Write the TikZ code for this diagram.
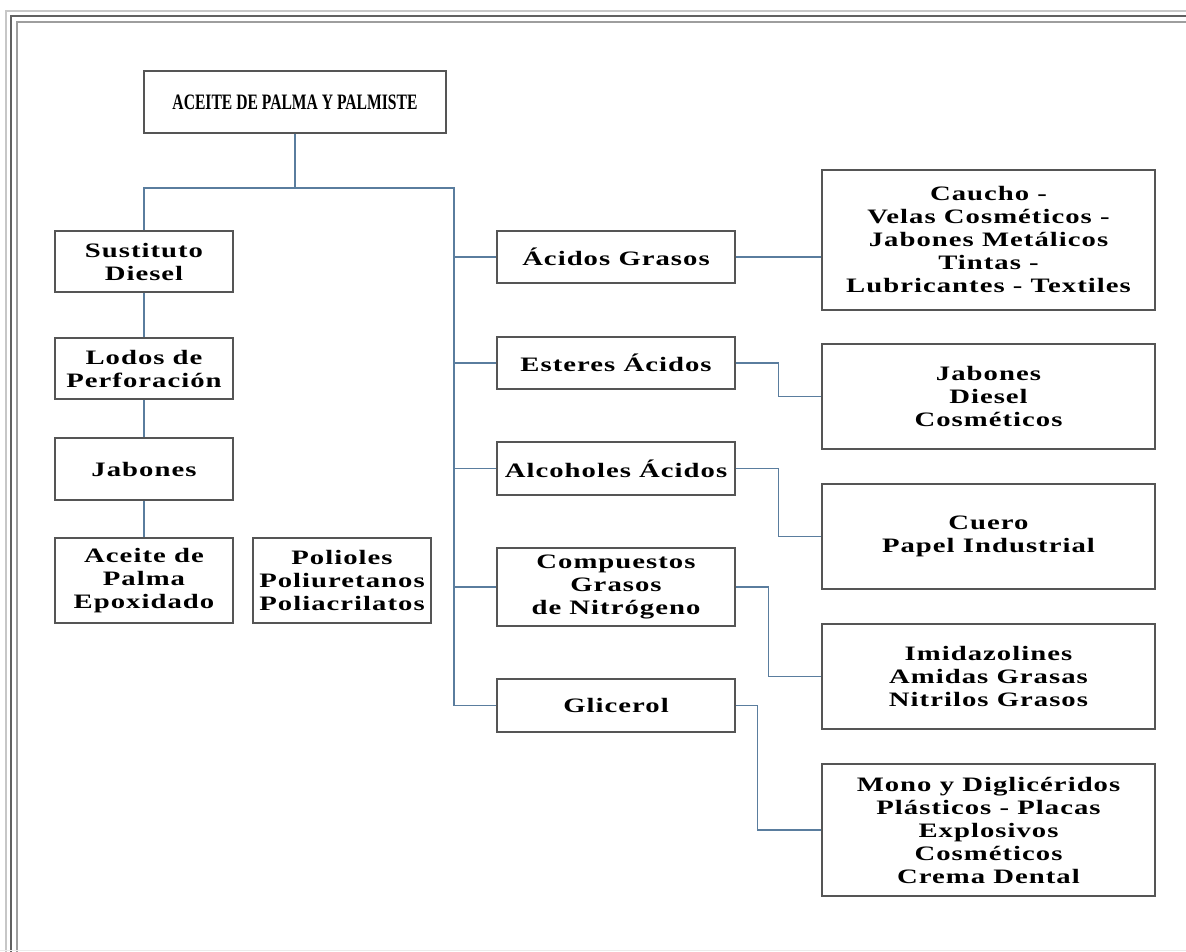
\documentclass[tikz,border=0pt]{standalone}
\usepackage{fontspec}
\setmainfont{Liberation Serif}
\newfontfamily\bodyfont{Liberation Serif}[FakeStretch=1.4, LetterSpace=5]
\newfontfamily\titlefont{Liberation Serif}[FakeStretch=0.71]
\usetikzlibrary{calc}
\definecolor{conncol}{HTML}{5A7D9E}
\definecolor{boxcol}{HTML}{555555}
\tikzset{
  box/.style={draw=boxcol, line width=1.1pt, inner sep=0pt, align=center,
    font=\bodyfont\bfseries\fontsize{20.5}{23}\selectfont, text=black},
  conn/.style={draw=conncol, line width=1.1pt},
}
\begin{document}
\begin{tikzpicture}[x=1pt,y=-1pt]
\useasboundingbox (0,0) rectangle (1186,952);
\fill[white] (0,0) rectangle (1186,952);
% page frame
\draw[color=black!22, line width=1.4pt] (6,960) -- (6,11) -- (1200,11);
\draw[color=black!62, line width=1.4pt] (11,960) -- (11,16) -- (1200,16);
\draw[color=black!38, line width=1.4pt] (17,960) -- (17,22) -- (1200,22);
\draw[color=black!8, line width=1pt] (0,950.5) -- (1186,950.5);
% title
\node[box, minimum width=302pt, minimum height=62pt, font=\titlefont\bfseries\fontsize{22}{25}\selectfont] (title) at (295,102) {ACEITE DE PALMA Y PALMISTE};
% left column
\node[box, minimum width=178pt, minimum height=61pt] (sust) at (144,261.5) {Sustituto\\Diesel};
\node[box, minimum width=178pt, minimum height=61pt] (lodos) at (144,368.5) {Lodos de\\Perforación};
\node[box, minimum width=178pt, minimum height=62pt] (jab) at (144,469) {Jabones};
\node[box, minimum width=178pt, minimum height=85pt] (epox) at (144,580.5) {Aceite de\\Palma\\Epoxidado};
\node[box, minimum width=178pt, minimum height=85pt] (poli) at (342,580.5) {Polioles\\Poliuretanos\\Poliacrilatos};
% middle column
\node[box, minimum width=238pt, minimum height=52pt] (acg) at (616,257) {Ácidos Grasos};
\node[box, minimum width=238pt, minimum height=52pt] (est) at (616,363) {Esteres Ácidos};
\node[box, minimum width=238pt, minimum height=53pt] (alc) at (616,468.5) {Alcoholes Ácidos};
\node[box, minimum width=238pt, minimum height=78pt] (comp) at (616,587) {Compuestos\\Grasos\\de Nitrógeno};
\node[box, minimum width=238pt, minimum height=53pt] (gli) at (616,705.5) {Glicerol};
% right column
\node[box, minimum width=333pt, minimum height=140pt] (r1) at (988.5,240) {Caucho -\hspace{36pt}\\Velas Cosméticos -\\Jabones Metálicos\\Tintas -\\Lubricantes - Textiles};
\node[box, minimum width=333pt, minimum height=105pt] (r2) at (988.5,396.5) {Jabones\\Diesel\\Cosméticos};
\node[box, minimum width=333pt, minimum height=105pt] (r3) at (988.5,536.5) {Cuero\\Papel Industrial};
\node[box, minimum width=333pt, minimum height=105pt] (r4) at (988.5,676.5) {Imidazolines\\Amidas Grasas\\Nitrilos Grasos};
\node[box, minimum width=333pt, minimum height=132pt] (r5) at (988.5,830) {Mono y Diglicéridos\\Plásticos - Placas\\Explosivos\\Cosméticos\\Crema Dental};
% connectors
\coordinate (L) at (144,188);
\coordinate (R) at (454,188);
\draw[conn] (title.south) -- (title.south |- L);
\draw[conn] (sust.north) -- (L) -- (R) -- (R |- gli.west) -- (gli.west);
\draw[conn] (R |- acg.west) -- (acg.west);
\draw[conn] (R |- est.west) -- (est.west);
\draw[conn] (R |- alc.west) -- (alc.west);
\draw[conn] (R |- comp.west) -- (comp.west);
\draw[conn] (sust.south) -- (lodos.north);
\draw[conn] (lodos.south) -- (jab.north);
\draw[conn] (jab.south) -- (epox.north);
\draw[conn] (acg.east) -- (r1.west |- acg.east);
\draw[conn] (est.east) -- ++(43,0) |- (r2.west);
\draw[conn] (alc.east) -- ++(43,0) |- (r3.west);
\draw[conn] (comp.east) -- ++(33,0) |- (r4.west);
\draw[conn] (gli.east) -- ++(22,0) |- (r5.west);
\end{tikzpicture}
\end{document}
